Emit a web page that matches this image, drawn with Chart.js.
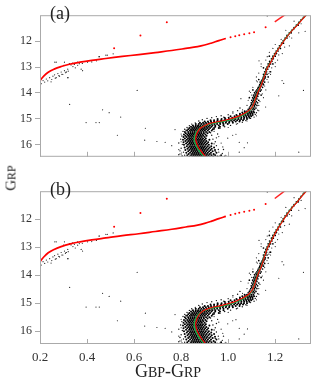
<!DOCTYPE html>
<html>
<head>
<meta charset="utf-8">
<script src="https://cdn.jsdelivr.net/npm/chart.js@4/dist/chart.umd.min.js"></script>
<style>
  html, body { margin: 0; padding: 0; background: #fff; }
  #wrap { position: relative; width: 315px; height: 384px; overflow: hidden; font-family: 'Liberation Serif', 'DejaVu Serif', serif; color: #222; }
  canvas { position: absolute; left: 0; }
  #chartA { top: 0; }
  #chartB { top: 176px; }
  .panel { position: absolute; left: 50px; font-size: 18px; line-height: 18px; z-index: 2; }
  #xtitle { position: absolute; left: 168px; top: 362px; transform: translateX(-50%); line-height: 18px; white-space: nowrap; }
  #ytitle { position: absolute; left: 11px; top: 178px; transform: translate(-50%, -50%) rotate(-90deg); line-height: 14px; white-space: nowrap; }
</style>
</head>
<body>
<div id="wrap">
  <canvas id="chartA" width="315" height="172"></canvas>
  <canvas id="chartB" width="315" height="208"></canvas>
  <div class="panel" style="top:4px">(a)</div>
  <div class="panel" style="top:180px">(b)</div>
  <div id="xtitle"><span style="font-size:18px">G</span><span style="font-size:14px">BP</span><span style="font-size:18px">-G</span><span style="font-size:14px">RP</span></div>
  <div id="ytitle"><span style="font-size:15px">G</span><span style="font-size:12px">RP</span></div>
</div>
<script>
// axes
const xTicks = [0.2, 0.4, 0.6, 0.8, 1.0, 1.2];
const yTicks = [12, 13, 14, 15, 16];

// dense main sequence / subgiant clump, rows of [mag, colours...]
const clumpRows = [
  [16.47, 0.835,0.848,0.857,0.866,0.875,0.884,0.893,0.902,0.911,0.922,0.936,0.955],
  [16.42, 0.826,0.842,0.852,0.861,0.870,0.879,0.888,0.897,0.906,0.916,0.929,0.945,0.97],
  [16.37, 0.832,0.846,0.855,0.864,0.873,0.882,0.891,0.900,0.910,0.922,0.938],
  [16.32, 0.822,0.838,0.849,0.858,0.867,0.876,0.885,0.894,0.903,0.914,0.927,0.95],
  [16.27, 0.83,0.843,0.852,0.861,0.870,0.879,0.888,0.897,0.907,0.919,0.934],
  [16.22, 0.818,0.835,0.846,0.855,0.864,0.873,0.882,0.891,0.900,0.911,0.925,0.944],
  [16.17, 0.827,0.84,0.849,0.858,0.867,0.876,0.885,0.894,0.904,0.916,0.93],
  [16.12, 0.815,0.832,0.843,0.852,0.861,0.870,0.879,0.888,0.897,0.908,0.921,0.94],
  [16.07, 0.824,0.837,0.846,0.855,0.864,0.873,0.882,0.891,0.901,0.913,0.928],
  [16.02, 0.812,0.829,0.840,0.849,0.858,0.867,0.876,0.885,0.894,0.905,0.918],
  [15.97, 0.821,0.834,0.843,0.852,0.861,0.870,0.879,0.888,0.898,0.91,0.93],
  [15.92, 0.81,0.826,0.837,0.846,0.855,0.864,0.873,0.882,0.891,0.902,0.915],
  [15.87, 0.818,0.831,0.84,0.849,0.858,0.867,0.876,0.885,0.895,0.907],
  [15.82, 0.808,0.824,0.835,0.844,0.853,0.862,0.871,0.88,0.889,0.9,0.92],
  [15.77, 0.816,0.829,0.838,0.847,0.856,0.865,0.874,0.883,0.893,0.905],
  [15.72, 0.81,0.823,0.834,0.843,0.852,0.861,0.87,0.879,0.888,0.9],
  [15.67, 0.818,0.83,0.839,0.848,0.857,0.866,0.875,0.884,0.894,0.908],
  [15.62, 0.812,0.826,0.836,0.845,0.854,0.863,0.872,0.881,0.891,0.903],
  [15.57, 0.82,0.832,0.841,0.85,0.859,0.868,0.877,0.886,0.897,0.912],
  [15.52, 0.816,0.83,0.84,0.849,0.858,0.867,0.876,0.885,0.895,0.906,0.92],
  [15.47, 0.825,0.837,0.846,0.855,0.864,0.873,0.882,0.891,0.901,0.913,0.93],
  [15.42, 0.83,0.842,0.851,0.86,0.869,0.878,0.887,0.896,0.906,0.918,0.935],
  [15.37, 0.835,0.847,0.856,0.865,0.874,0.883,0.892,0.901,0.911,0.923,0.94,0.96],
  [15.32, 0.842,0.853,0.862,0.871,0.88,0.889,0.898,0.907,0.917,0.929,0.945,0.965],
  [15.27, 0.85,0.862,0.872,0.882,0.892,0.902,0.912,0.922,0.933,0.945,0.96,0.98],
  [15.22, 0.862,0.875,0.886,0.897,0.908,0.919,0.93,0.941,0.953,0.966,0.98,0.998],
  [15.17, 0.88,0.893,0.905,0.917,0.929,0.941,0.953,0.965,0.977,0.99,1.004,1.02],
  [15.12, 0.9,0.914,0.927,0.94,0.953,0.966,0.979,0.992,1.005,1.018,1.032,1.048],
  [15.07, 0.925,0.94,0.955,0.97,0.984,0.998,1.012,1.025,1.038,1.05,1.063],
  [15.02, 0.955,0.972,0.988,1.003,1.017,1.03,1.043,1.055,1.067,1.08],
  [14.97, 0.985,1.002,1.017,1.031,1.044,1.056,1.068,1.079,1.09],
  [14.92, 1.01,1.027,1.041,1.054,1.066,1.077,1.088,1.098],
  [14.87, 1.035,1.05,1.062,1.073,1.084,1.094,1.104],
  [14.82, 1.05,1.063,1.074,1.084,1.094,1.103],
  [14.77, 1.06,1.072,1.082,1.091,1.1,1.11],
  [14.72, 1.07,1.08,1.089,1.098,1.107]
];

// loose stars round the edges of the clump
const edgeStars = [
  [0.805,16.45],[0.81,16.3],[0.8,16.15],[0.805,16.0],[0.798,15.8],[0.803,15.68],[0.808,15.5],[0.815,15.42],
  [0.825,15.35],[0.835,15.28],[0.845,15.22],[0.86,15.17],[0.875,15.1],[0.89,15.05],[0.91,15.0],[0.93,14.97],
  [0.95,14.93],[0.97,14.9],[1.0,14.86],[1.02,14.75],[1.04,14.7],[1.05,14.6],[0.965,16.45],[0.975,16.35],
  [0.958,16.2],[0.95,16.05],[0.945,15.9],[0.935,15.8],[0.93,15.65],[0.925,15.55],[0.94,15.42],[0.965,15.38],
  [0.985,15.32],[1.01,15.27],[1.035,15.22],[1.06,15.15],[1.075,15.08],[1.095,15.0],[1.11,14.95],[1.115,14.85],
  [1.12,14.78],[1.125,14.68],[0.98,16.2],[0.955,15.6],[0.82,15.45],[0.79,15.95],[0.815,16.42],[0.94,16.4],
  [0.985,16.46],[0.79,16.4],[0.795,16.25],[0.945,16.28],[0.95,15.75],[0.94,15.98]
];

// red giant branch stars, rows of [mag, colours...]
const rgbRows = [
  [14.65, 1.085,1.095,1.105,1.112], [14.6, 1.09,1.1,1.108,1.118], [14.55, 1.093,1.103,1.112],
  [14.5, 1.096,1.104,1.112,1.122], [14.45, 1.1,1.108,1.116], [14.4, 1.098,1.106,1.114,1.125],
  [14.35, 1.104,1.112,1.12], [14.3, 1.1,1.108,1.116,1.13], [14.25, 1.107,1.115,1.122],
  [14.2, 1.09,1.104,1.112,1.12], [14.15, 1.11,1.118,1.126], [14.1, 1.108,1.116,1.124,1.14],
  [14.05, 1.114,1.122,1.13], [14.0, 1.112,1.12,1.128], [13.95, 1.118,1.126,1.136],
  [13.9, 1.105,1.122,1.13,1.14], [13.85, 1.126,1.134], [13.8, 1.128,1.136,1.146],
  [13.75, 1.132,1.14], [13.7, 1.134,1.142,1.15], [13.65, 1.138,1.147],
  [13.6, 1.136,1.144,1.155], [13.55, 1.142,1.15], [13.5, 1.13,1.145,1.152],
  [13.45, 1.148,1.156], [13.4, 1.15,1.158,1.17], [13.35, 1.153], [13.3, 1.15,1.158,1.165],
  [13.25, 1.16], [13.2, 1.155,1.163,1.18], [13.15, 1.162], [13.1, 1.16,1.168],
  [13.05, 1.15,1.165], [13.0, 1.166,1.174], [12.95, 1.172], [12.9, 1.17,1.18,1.19],
  [12.85, 1.178], [12.8, 1.176,1.186], [12.7, 1.184,1.192], [12.6, 1.175,1.19,1.2],
  [12.5, 1.197,1.205], [12.4, 1.204,1.212], [12.3, 1.212,1.222], [12.2, 1.218],
  [12.1, 1.227,1.235], [12.0, 1.234], [11.9, 1.242,1.25], [11.8, 1.25],
  [11.7, 1.26,1.268], [11.6, 1.27], [11.5, 1.28], [11.4, 1.29,1.298], [11.3, 1.3],
  [11.2, 1.31], [11.1, 1.32]
];

// horizontal branch / blue stars
const hbStars = [
  [0.2,13.62],[0.205,13.66],[0.213,13.54],[0.22,13.6],[0.227,13.48],[0.233,13.55],[0.241,13.43],
  [0.247,13.59],[0.25,13.5],[0.255,13.37],[0.262,13.32],[0.265,13.45],[0.269,13.43],[0.276,13.27],
  [0.28,13.35],[0.283,13.37],[0.29,13.21],[0.293,13.3],[0.297,13.3],[0.304,13.16],[0.308,13.24],
  [0.311,13.21],[0.318,13.1],[0.32,13.18],[0.325,12.89],[0.332,12.94],[0.339,12.87],[0.346,12.92],
  [0.35,13.05],[0.269,12.83],[0.304,12.83],[0.381,13.16],[0.318,13.43],[0.402,12.83],[0.451,12.62],
  [0.486,12.56],[0.511,12.51],[0.36,12.83],[0.367,12.89],[0.312,13.21],[0.319,13.43],[0.375,13.1],
  [0.452,12.62],[0.48,12.56],[0.263,12.83],[0.3,12.95],[0.34,13.0],[0.36,12.95],[0.38,12.88],
  [0.42,12.82],[0.44,12.78]
];

// scattered field stars
const fieldStars = [
  [0.326,14.46],[0.396,15.16],[0.438,15.16],[0.452,15.16],[0.466,14.67],[0.494,14.78],[0.543,14.95],
  [0.529,15.65],[0.613,13.92],[0.648,15.38],[0.645,15.84],[0.697,15.89],[1.166,11.05],[1.327,11.64],
  [1.131,12.78],[1.166,12.62],[1.236,13.65],[1.32,13.92],[1.215,14.13],[1.054,14.24],[1.061,14.67],
  [1.159,14.56],[0.998,15.76],[1.019,15.65],[1.047,15.92],[1.068,16.13],[0.732,15.92],[0.774,15.43],
  [1.3,16.3],[1.047,16.3],[0.76,16.05],[0.795,16.37],[0.977,16.1],[1.033,15.61],[1.082,15.94],
  [1.096,14.9],[0.79,16.2],[0.8,15.9],[0.96,15.7],[0.97,15.95],[0.96,16.3],[0.99,16.42],[0.8,15.6],
  [0.94,15.5],[1.0,15.35],[1.04,15.2],[1.08,15.1],[1.12,14.9],[1.13,14.7],[0.98,14.95],[1.02,14.8],
  [1.15,14.2],[1.16,13.9],[1.09,13.95],[1.1,14.1],[1.17,13.6],[1.18,13.3],[1.12,13.4],[1.2,13.0],
  [1.14,12.9],[1.21,12.75],[1.23,12.5],[1.19,12.3],[1.26,12.2],[1.27,11.9],[1.3,11.7],[1.187,12.67],
  [1.124,13.59],[1.229,13.54],[1.173,13.27],
  [1.08,14.5],[1.13,14.5],[1.085,14.3],[1.135,14.35],[1.095,14.0],[1.145,14.05],[1.105,13.8],[1.155,13.75],
  [1.12,13.55],[1.165,13.5],[1.13,13.25],[1.175,13.2],[1.14,13.0],[1.185,13.05],[1.16,12.75],[1.2,12.85],
  [1.175,12.45],[1.215,12.55],[1.2,12.15],[1.24,12.25],[1.225,11.95],[1.26,11.85],[1.245,11.6],[1.28,11.55],
  [1.28,11.25],[1.31,11.35]
];

// green fiducial line
const fiducial = [
  [0.897,16.48],[0.88,16.3],[0.866,16.1],[0.857,15.9],[0.856,15.75],[0.861,15.59],[0.869,15.47],
  [0.881,15.37],[0.9,15.28],[0.93,15.2],[0.97,15.13],[1.0,15.07],[1.03,14.99],[1.06,14.88],
  [1.085,14.74],[1.1,14.6],[1.108,14.45],[1.115,14.25],[1.125,14.0],[1.14,13.7],[1.152,13.4],
  [1.166,13.05],[1.182,12.8],[1.2,12.5],[1.222,12.2],[1.245,11.9],[1.27,11.62],[1.293,11.4],
  [1.315,11.17],[1.335,10.98]
];

// red isochrone
const isochrone = [
  [0.905,16.48],[0.888,16.3],[0.873,16.1],[0.864,15.9],[0.862,15.75],[0.866,15.6],[0.873,15.47],
  [0.884,15.36],[0.903,15.26],[0.933,15.17],[0.972,15.1],[1.003,15.03],[1.033,14.95],[1.062,14.84],
  [1.086,14.71],[1.101,14.57],[1.109,14.43],[1.116,14.25],[1.126,14.0],[1.141,13.7],[1.153,13.4],
  [1.167,13.05],[1.183,12.8],[1.201,12.5],[1.223,12.2],[1.246,11.9],[1.271,11.62],[1.294,11.4],
  [1.316,11.17],[1.336,10.98]
];
const hbLine = [
  [0.2,13.54],[0.215,13.38],[0.235,13.22],[0.26,13.1],[0.29,13.0],[0.325,12.91],[0.37,12.83],
  [0.42,12.76],[0.48,12.69],[0.55,12.61],[0.62,12.54],[0.69,12.46],[0.76,12.38],[0.82,12.3],
  [0.87,12.23],[0.9,12.17],[0.93,12.09],[0.96,12.0],[0.99,11.92]
];
const agbLine = [[1.198,11.28],[1.245,10.98]];
const redStars = [
  [1.01,11.87],[1.03,11.83],[1.047,11.79],[1.068,11.75],[1.09,11.72],[1.11,11.68],[1.159,11.48],
  [0.739,11.29],[0.627,11.8],[0.515,12.29]
];

const pts = arr => arr.map(p => ({ x: p[0], y: p[1] }));
const rowPts = rows => rows.flatMap(r => r.slice(1).map(x => ({ x, y: r[0] })));

Chart.defaults.font.family = "'Liberation Serif', 'DejaVu Serif', serif";
Chart.defaults.color = '#333';

// frame and ticks: y ticks outward, x ticks inward
const framePlugin = {
    id: 'frame',
    afterDatasetsDraw(chart) {
        const { ctx, chartArea: a, scales } = chart;
        ctx.save();
        ctx.strokeStyle = '#aaa';
        ctx.lineWidth = 1;
        ctx.strokeRect(a.left + 0.5, a.top + 0.5, a.right - a.left - 1, a.bottom - a.top - 1);
        ctx.beginPath();
        yTicks.forEach(v => {
            const py = Math.round(scales.y.getPixelForValue(v)) + 0.5;
            ctx.moveTo(a.left - 5, py);
            ctx.lineTo(a.left, py);
        });
        xTicks.forEach(v => {
            const px = Math.round(scales.x.getPixelForValue(v)) + 0.5;
            ctx.moveTo(px, a.bottom);
            ctx.lineTo(px, a.bottom - 5);
        });
        ctx.stroke();
        ctx.restore();
    }
};

function makeChart(id, showX) {
    const dot = (data, r, c) => ({
        data: data, pointRadius: r, pointBackgroundColor: c, pointBorderWidth: 0, showLine: false, clip: 0
    });
    new Chart(document.getElementById(id), {
        type: 'scatter',
        data: {
            datasets: [
                dot(pts(redStars), 1.0, '#f00'),
                { data: pts(agbLine), showLine: true, borderColor: '#f22', borderWidth: 1.5, pointRadius: 0, clip: 0 },
                { data: pts(hbLine), showLine: true, borderColor: '#f00', borderWidth: 1.7, tension: 0.4, pointRadius: 0, clip: 0 },
                { data: pts(isochrone), showLine: true, borderColor: '#f00', borderWidth: 1.1, tension: 0.4, pointRadius: 0, clip: 0 },
                { data: pts(fiducial), showLine: true, borderColor: '#1aa84a', borderWidth: 1.4, tension: 0.4, pointRadius: 0, clip: 0 },
                dot(pts(hbStars), 0.6, '#222'),
                dot(pts(fieldStars), 0.6, '#222'),
                dot(pts(edgeStars), 0.7, '#111'),
                dot(rowPts(rgbRows), 0.85, '#000'),
                dot(rowPts(clumpRows), 1.0, '#000')
            ]
        },
        options: {
            responsive: false,
            animation: false,
            events: [],
            layout: { padding: { top: 1, right: 1, left: 0, bottom: 0 } },
            plugins: { legend: { display: false }, tooltip: { enabled: false } },
            scales: {
                x: {
                    type: 'linear', min: 0.2, max: 1.352,
                    grid: { display: false, drawTicks: false, tickLength: 0 },
                    border: { display: false },
                    afterBuildTicks: s => { s.ticks = xTicks.map(v => ({ value: v })); },
                    afterFit: s => { s.height = showX ? 40 : 3; },
                    ticks: { display: showX, autoSkip: false, padding: 6, font: { size: 13 }, callback: v => v.toFixed(1) }
                },
                y: {
                    type: 'linear', reverse: true, min: 11.02, max: 16.48,
                    grid: { display: false, drawTicks: false, tickLength: 0 },
                    border: { display: false },
                    afterBuildTicks: s => { s.ticks = yTicks.map(v => ({ value: v })); },
                    afterFit: s => { s.width = 40; },
                    ticks: { autoSkip: false, padding: 8, font: { size: 12 } }
                }
            }
        },
        plugins: [framePlugin]
    });
}

makeChart('chartA', false);
makeChart('chartB', true);
</script>
</body>
</html>
